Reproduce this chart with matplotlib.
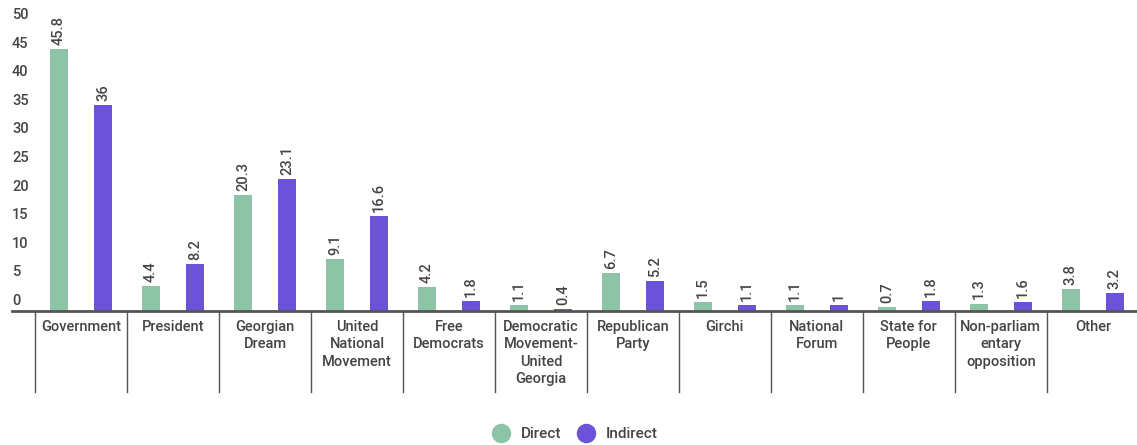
import matplotlib
matplotlib.use("Agg")
import matplotlib.pyplot as plt
import matplotlib.transforms as mtransforms
from matplotlib.lines import Line2D
import numpy as np

plt.rcParams["font.family"] = ["Roboto", "DejaVu Sans"]
plt.rcParams["font.weight"] = "medium"

categories = [
    "Government", "President", "Georgian\nDream", "United\nNational\nMovement",
    "Free\nDemocrats", "Democratic\nMovement-\nUnited\nGeorgia", "Republican\nParty",
    "Girchi", "National\nForum", "State for\nPeople", "Non-parliam\nentary\nopposition",
    "Other",
]
direct = [45.8, 4.4, 20.3, 9.1, 4.2, 1.1, 6.7, 1.5, 1.1, 0.7, 1.3, 3.8]
indirect = [36, 8.2, 23.1, 16.6, 1.8, 0.4, 5.2, 1.1, 1, 1.8, 1.6, 3.2]
y_ticks = [0, 5, 10, 15, 20, 25, 30, 35, 40, 45, 50]

GREEN = "#8dc3a7"
PURPLE = "#6b52d9"
TEXT = "#444444"

W, H = 1137, 445
fig = plt.figure(figsize=(W / 100, H / 100), dpi=100)
ax = fig.add_axes([12 / W, 1 - 311 / H, 1 - 12 / W, 311 / H])

x = np.arange(len(categories))
off, bw = 0.239, 0.196
ax.bar(x - off, direct, bw, color=GREEN)
ax.bar(x + off, indirect, bw, color=PURPLE)

for xs, vals in ((x - off, direct), (x + off, indirect)):
    for xi, v in zip(xs, vals):
        ax.annotate(f"{v:g}", (xi, v), xytext=(0, 3), textcoords="offset points",
                    rotation=90, ha="center", va="bottom", fontsize=10.5, color=TEXT)

ax.set_xlim(-0.75, 11.48)
ax.set_ylim(0, 54.4)
ax.set_xticks([])
ax.set_yticks([])
for s in ("top", "right", "left"):
    ax.spines[s].set_visible(False)
ax.spines["bottom"].set_color("#555555")
ax.spines["bottom"].set_linewidth(2)

# y tick labels sit a bit above their value
ytrans = mtransforms.blended_transform_factory(ax.transAxes, ax.transData)
ytrans = ytrans + mtransforms.ScaledTranslation(0, 10 / 100, fig.dpi_scale_trans)
for t in y_ticks:
    ax.text(0, t, str(t), transform=ytrans, ha="left", va="center",
            fontsize=10.5, color=TEXT)

# category separators and labels below the axis
sep = mtransforms.blended_transform_factory(ax.transData, ax.transAxes)
for i in range(len(categories) + 1):
    ax.plot([i - 0.5, i - 0.5], [0, -81 / 311], transform=sep, color="#555555",
            lw=1, clip_on=False)
for i, lab in enumerate(categories):
    ax.text(i, -9 / 311, lab, transform=sep, ha="center", va="top", fontsize=10.5,
            color=TEXT, linespacing=1.3)

handles = [
    Line2D([], [], marker="o", ls="", color=GREEN, markersize=13, label="Direct"),
    Line2D([], [], marker="o", ls="", color=PURPLE, markersize=13, label="Indirect"),
]
leg = fig.legend(handles=handles, loc="center", bbox_to_anchor=(572 / W, 1 - 434 / H),
                 ncol=2, frameon=False, fontsize=11, handletextpad=0.3,
                 columnspacing=0.6)
for t in leg.get_texts():
    t.set_color(TEXT)

fig.savefig("out.png", dpi=100)
